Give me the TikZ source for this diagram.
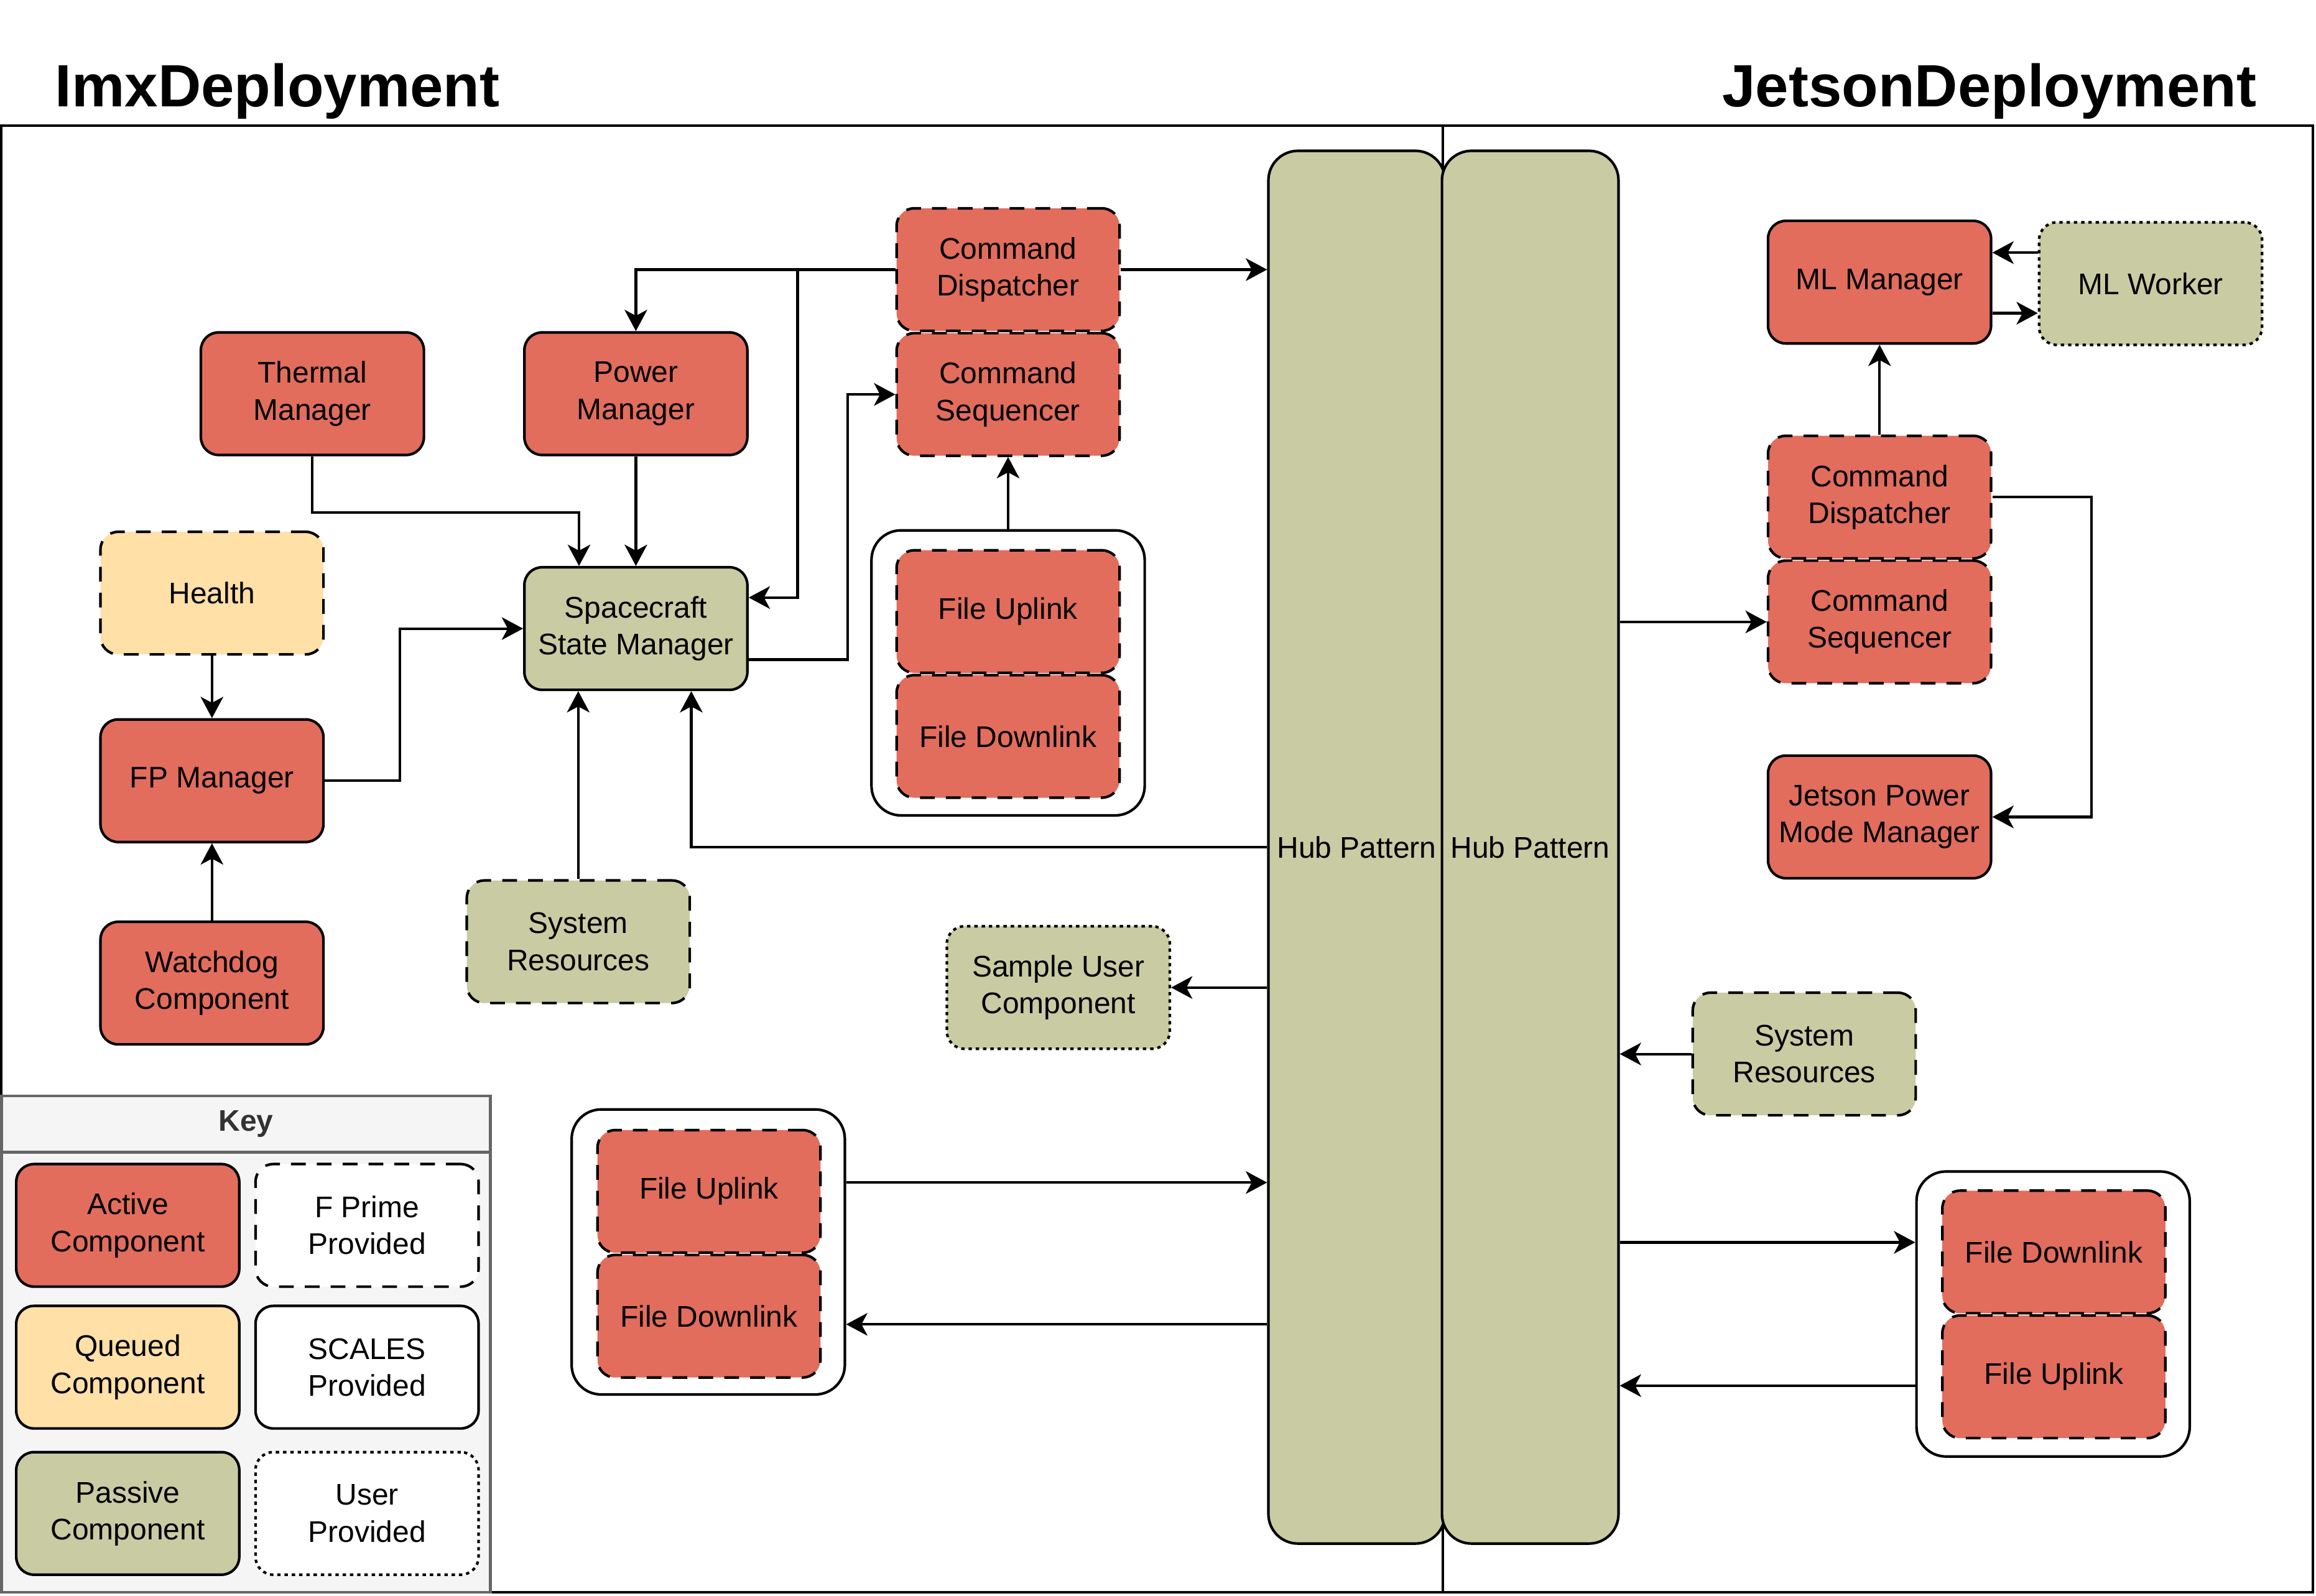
\documentclass[tikz,border=0pt]{standalone}
\usepackage{fontspec}
\setmainfont{Liberation Sans}
\usepackage{xcolor}
\usetikzlibrary{arrows.meta,positioning,calc}

\definecolor{activered}{HTML}{E26D5D}
\definecolor{queuedyel}{HTML}{FFE0A7}
\definecolor{passivegrn}{HTML}{C9CBA3}
\definecolor{keygray}{HTML}{F5F5F5}
\definecolor{keyline}{HTML}{666666}

\begin{document}
\begin{tikzpicture}[
  x=0.02cm, y=-0.02cm,
  font=\fontsize{11.5}{14.2}\selectfont,
  comp/.style={rectangle, draw=black, rounded corners=0.24cm, line width=1pt,
               align=center, inner sep=2pt,
               minimum width=3.02cm, minimum height=1.66cm},
  active/.style={comp, fill=activered},
  queued/.style={comp, fill=queuedyel},
  passive/.style={comp, fill=passivegrn},
  fprime/.style={dash pattern=on 0.2cm off 0.15cm},
  userprov/.style={dash pattern=on 1.3pt off 1.5pt},
  grp/.style={rectangle, draw=black, rounded corners=0.4cm, line width=1pt,
              fill=white, minimum width=3.7cm, minimum height=3.86cm},
  hub/.style={rectangle, draw=black, rounded corners=0.4cm, line width=1pt,
              fill=passivegrn, minimum width=2.34cm, minimum height=18.86cm},
  keybox/.style={rectangle, draw=keyline, fill=keygray, line width=1pt,
                 minimum width=6.62cm},
  title/.style={font=\bfseries\fontsize{23}{27}\selectfont, inner sep=0pt},
  arr/.style={-{Stealth[length=8.2pt,width=8.7pt,inset=2.3pt]}, line width=1pt},
]
\useasboundingbox (0,0) rectangle (1568,1080);

%% Frames and titles
\draw[line width=1pt] (1,85) rectangle (977,1078);
\draw[line width=1pt] (977,85) rectangle (1566,1078);
\node[title, anchor=base west] (imxtitle) at (37,72) {ImxDeployment};
\node[title, anchor=base east] (jettitle) at (1528,72) {JetsonDeployment};

%% Key
\node[keybox, minimum height=0.76cm] (keyhead) at (166.5,761)
  {\textcolor{black!80}{\textbf{Key}}};
\node[keybox, minimum height=5.96cm] (keybody) at (166.5,929) {};
\node[active] (kactive) at (86.5,829.5) {Active\\Component};
\node[comp, fill=white, fprime] (kfprime) at (248.5,829.5) {F Prime\\Provided};
\node[queued] (kqueued) at (86.5,925.5) {Queued\\Component};
\node[comp, fill=white] (kscales) at (248.5,925.5) {SCALES\\Provided};
\node[passive] (kpassive) at (86.5,1024.5) {Passive\\Component};
\node[comp, fill=white, userprov] (kuser) at (248.5,1024.5) {User\\Provided};

%% Hubs
\node[hub] (hubimx) at (918.5,573.5) {Hub Pattern};
\node[hub] (hubjet) at (1036,573.5) {Hub Pattern};

%% ImxDeployment components
\node[active, fprime] (cmddisp) at (682.5,182.5) {Command\\Dispatcher};
\node[active, fprime] (cmdseq) at (682.5,267) {Command\\Sequencer};
\node[active] (thermal) at (211.5,266.5) {Thermal\\Manager};
\node[active] (power) at (430.5,266.5) {Power\\Manager};
\node[queued, fprime] (health) at (143.5,401.5) {Health};
\node[passive] (ssm) at (430.5,425.5) {Spacecraft\\State Manager};
\node[active] (fpman) at (143.5,528.5) {FP Manager};
\node[active] (watchdog) at (143.5,665.5) {Watchdog\\Component};
\node[passive, fprime] (sysresimx) at (391.5,637.5) {System\\Resources};
\node[passive, userprov] (sample) at (716.5,668.5) {Sample User\\Component};

%% File transfer groups (Imx)
\node[grp] (fileupimx) at (682.5,455.5) {};
\node[active, fprime] (fuA) at (682.5,414) {File Uplink};
\node[active, fprime] (fdA) at (682.5,498.5) {File Downlink};
\node[grp] (filelow) at (479.5,847.5) {};
\node[active, fprime] (fuB) at (480,806.5) {File Uplink};
\node[active, fprime] (fdB) at (480,891) {File Downlink};

%% JetsonDeployment components
\node[active] (mlman) at (1272.5,191) {ML Manager};
\node[passive, userprov] (mlwork) at (1456,192) {ML Worker};
\node[active, fprime] (cmddispjet) at (1272.5,336.5) {Command\\Dispatcher};
\node[active, fprime] (cmdseqjet) at (1272.5,421) {Command\\Sequencer};
\node[active] (jpmm) at (1272.5,553) {Jetson Power\\Mode Manager};
\node[passive, fprime] (sysresjet) at (1221.5,713.5) {System\\Resources};
\node[grp] (filejet) at (1390,889.5) {};
\node[active, fprime] (fdC) at (1390.5,847.5) {File Downlink};
\node[active, fprime] (fuC) at (1390.5,932) {File Uplink};

%% ── Arrows (Imx) ────────────────────────────────────────────
\coordinate (dsplit) at (540,182.5);
\draw[arr] (cmddisp.west) -| (power.north);
\draw[arr] (dsplit) |- ($(ssm.east)+(0,-21)$);
\draw[arr] (cmddisp.east) -- (hubimx.west |- cmddisp.east);
\draw[arr] (thermal.south) -- ++(0,38) -| ($(ssm.north)+(-38.5,0)$);
\draw[arr] (power.south) -- (ssm.north);
\draw[arr] ($(ssm.east)+(0,21)$) -- ++(67,0) |- (cmdseq.west);
\draw[arr] (fileupimx.north) -- (cmdseq.south);
\draw[arr] (health.south) -- (fpman.north);
\draw[arr] (fpman.east) -- ++(51,0) |- (ssm.west);
\draw[arr] (watchdog.north) -- (fpman.south);
\draw[arr] (sysresimx.north) -- (sysresimx.north |- ssm.south);
\draw[arr] (hubimx.west) -| ($(ssm.south)+(37.5,0)$);
\draw[arr] (hubimx.west |- sample.east) -- (sample.east);
\coordinate (lowup) at ($(filelow.east)+(0,-47)$);
\coordinate (lowdn) at ($(filelow.east)+(0,49)$);
\draw[arr] (lowup) -- (hubimx.west |- lowup);
\draw[arr] (hubimx.west |- lowdn) -- (lowdn);

%% ── Arrows (Jetson) ─────────────────────────────────────────
\draw[arr] (hubjet.east |- cmdseqjet.west) -- (cmdseqjet.west);
\draw[arr] (cmddispjet.north) -- (mlman.south);
\draw[arr] ($(mlwork.west)+(0,-21)$) -- ($(mlman.east)+(0,-20)$);
\draw[arr] ($(mlman.east)+(0,21)$) -- ($(mlwork.west)+(0,20)$);
\draw[arr] (cmddispjet.east) -- ++(67,0) |- (jpmm.east);
\draw[arr] (sysresjet.west) -- (hubjet.east |- sysresjet.west);
\coordinate (jetdn) at ($(filejet.west)+(0,-48.5)$);
\coordinate (jetup) at ($(filejet.west)+(0,48.5)$);
\draw[arr] (hubjet.east |- jetdn) -- (jetdn);
\draw[arr] (jetup) -- (hubjet.east |- jetup);

\end{tikzpicture}
\end{document}
